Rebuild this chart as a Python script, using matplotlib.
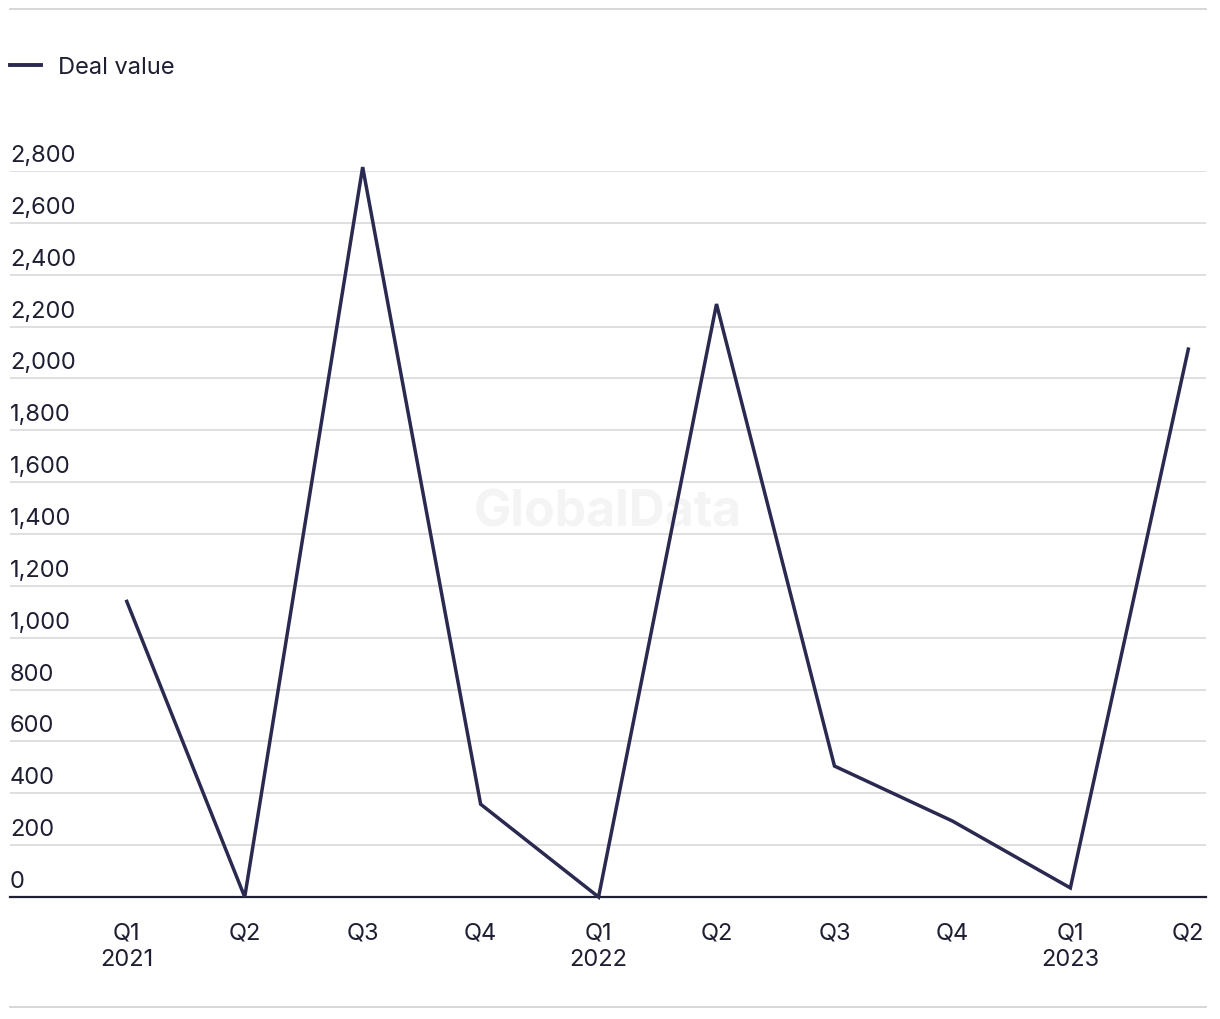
import numpy as np
import matplotlib.pyplot as plt
import matplotlib.transforms as mtransforms
from matplotlib.lines import Line2D

# data
quarters = ['Q1\n2021', 'Q2', 'Q3', 'Q4', 'Q1\n2022', 'Q2', 'Q3', 'Q4', 'Q1\n2023', 'Q2']
deal_value = [1140, 0, 2815, 358, 0, 2287, 505, 293, 35, 2113]
yticks = [0, 200, 400, 600, 800, 1000, 1200, 1400, 1600, 1800, 2000, 2200, 2400, 2600, 2800]

plt.rcParams['font.family'] = ['Inter', 'DejaVu Sans']
text_col = '#1f1f33'
line_col = '#2a2950'
grid_col = '#d9d9d9'

fig = plt.figure(figsize=(12.2, 10.2), dpi=100)
ax = fig.add_axes([10 / 1220, 1 - 898 / 1020, 1196 / 1220, 726 / 1020])

x = np.arange(len(quarters))
ax.plot(x, deal_value, color=line_col, lw=2.5, clip_on=False, zorder=3, solid_joinstyle='miter')

ax.set_xlim(-0.99, 9.15)
ax.set_ylim(0, 2800)

# gridlines + labels sitting above them
for v in yticks:
    if v > 0:
        ax.axhline(v, color=grid_col, lw=1.2, zorder=1)
trans = mtransforms.blended_transform_factory(ax.transAxes, ax.transData)
off = mtransforms.ScaledTranslation(0, 5 / 100, fig.dpi_scale_trans)
for v in yticks:
    ax.text(0, v, f'{v:,}', transform=trans + off, ha='left', va='bottom',
            fontsize=17, color=text_col)

ax.set_yticks([])
ax.set_xticks(x)
ax.set_xticklabels(quarters, fontsize=17, color=text_col, linespacing=1.25)
ax.tick_params(axis='x', length=0, pad=18)
for s in ['top', 'right', 'left']:
    ax.spines[s].set_visible(False)
ax.spines['bottom'].set_color(text_col)
ax.spines['bottom'].set_linewidth(1.6)

# watermark
ax.text(0.5, 0.53, 'GlobalData', transform=ax.transAxes, ha='center', va='center',
        fontsize=36, fontweight='bold', color='#f4f4f4', zorder=0)

# legend
handle = Line2D([], [], color=line_col, lw=2.8)
fig.legend([handle], ['Deal value'], loc='center left',
           bbox_to_anchor=(10 / 1220, 1 - 68 / 1020), bbox_transform=fig.transFigure,
           frameon=False, fontsize=17, labelcolor=text_col, handlelength=1.3,
           handletextpad=0.75, borderaxespad=0, borderpad=0)

# top and bottom rules
fig.add_artist(Line2D([10 / 1220, 1206 / 1220], [1 - 10 / 1020] * 2, color=grid_col, lw=1.5))
fig.add_artist(Line2D([10 / 1220, 1206 / 1220], [1 - 1008 / 1020] * 2, color=grid_col, lw=1.5))

fig.savefig('out.png', dpi=100)
